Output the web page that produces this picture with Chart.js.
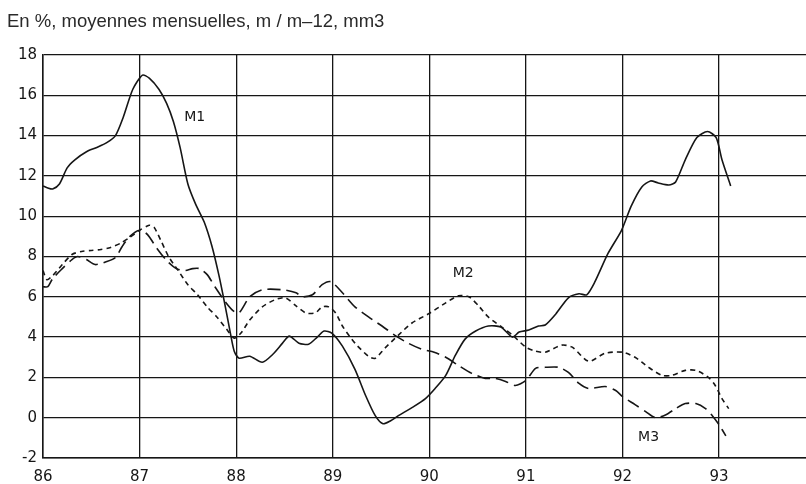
<!DOCTYPE html>
<html>
<head>
<meta charset="utf-8">
<script src="https://cdn.jsdelivr.net/npm/chart.js@4"></script>
<style>
  body { margin: 0; background: #fff; }
  canvas { display: block; }
</style>
</head>
<body>
<canvas id="money-chart" width="806" height="484"></canvas>
<script>
// monthly averages, year-on-year change in %
const m1Years = [86.00, 86.05, 86.10, 86.17, 86.25, 86.33, 86.45, 86.55, 86.66, 86.75, 86.83, 86.93,
    87.03, 87.10, 87.20, 87.28, 87.35, 87.42, 87.50, 87.58, 87.67, 87.75, 87.82, 87.88, 87.94, 87.98,
    88.03, 88.14, 88.27, 88.38, 88.48, 88.55, 88.65, 88.75, 88.84, 88.91, 88.99,
    89.10, 89.23, 89.34, 89.44, 89.52, 89.60, 89.68, 89.82, 89.96,
    90.06, 90.17, 90.27, 90.37, 90.48, 90.61, 90.74, 90.86, 90.93,
    91.03, 91.13, 91.20, 91.31, 91.44, 91.55, 91.63, 91.71, 91.85, 91.99,
    92.09, 92.20, 92.29, 92.37, 92.48, 92.55, 92.65, 92.77, 92.88, 92.97,
    93.03, 93.12];
const m1Values = [11.5, 11.4, 11.35, 11.6, 12.4, 12.8, 13.2, 13.4, 13.65, 14.0, 14.9, 16.3,
    17.0, 16.85, 16.3, 15.6, 14.7, 13.4, 11.6, 10.6, 9.7, 8.5, 7.1, 5.7, 4.2, 3.3,
    2.95, 3.05, 2.75, 3.15, 3.7, 4.05, 3.7, 3.65, 4.0, 4.3, 4.2,
    3.55, 2.4, 1.1, 0.1, -0.3, -0.15, 0.1, 0.5, 0.95,
    1.45, 2.1, 3.1, 3.9, 4.3, 4.55, 4.5, 4.0, 4.25,
    4.35, 4.55, 4.6, 5.15, 5.95, 6.15, 6.1, 6.7, 8.15, 9.3,
    10.5, 11.45, 11.75, 11.65, 11.55, 11.7, 12.8, 13.9, 14.2, 13.9,
    12.8, 11.5];

const m2Years = [86.00, 86.04, 86.10, 86.20, 86.30, 86.40, 86.50, 86.60, 86.70, 86.80, 86.90,
    87.00, 87.10, 87.15, 87.22, 87.30, 87.40, 87.50, 87.60, 87.70, 87.80, 87.90, 87.98,
    88.05, 88.14, 88.27, 88.40, 88.51, 88.62, 88.72, 88.82, 88.89, 88.96,
    89.03, 89.10, 89.23, 89.37, 89.44, 89.54, 89.68, 89.82, 89.99,
    90.17, 90.30, 90.41, 90.51, 90.61, 90.75, 90.86,
    91.00, 91.10, 91.20, 91.37, 91.48, 91.65, 91.82,
    92.00, 92.13, 92.27, 92.41, 92.51, 92.65, 92.76, 92.89, 92.96,
    93.03, 93.10];
const m2Values = [7.3, 6.85, 7.05, 7.6, 8.1, 8.25, 8.3, 8.35, 8.45, 8.65, 8.95,
    9.3, 9.55, 9.45, 8.8, 8.0, 7.3, 6.6, 6.1, 5.5, 5.0, 4.4, 3.95,
    4.2, 4.85, 5.5, 5.85, 5.95, 5.55, 5.2, 5.2, 5.5, 5.5,
    5.2, 4.55, 3.7, 3.05, 2.95, 3.45, 4.1, 4.7, 5.15,
    5.7, 6.05, 6.0, 5.55, 5.0, 4.5, 4.1,
    3.5, 3.3, 3.25, 3.6, 3.5, 2.8, 3.2,
    3.25, 3.0, 2.5, 2.1, 2.1, 2.35, 2.35, 2.0, 1.6,
    0.95, 0.45];

const m3Years = [86.00, 86.05, 86.10, 86.20, 86.30, 86.36, 86.45, 86.54, 86.66, 86.75, 86.82, 86.90,
    87.00, 87.08, 87.18, 87.28, 87.38, 87.47, 87.55, 87.62, 87.70, 87.78, 87.88, 87.97,
    88.03, 88.14, 88.27, 88.48, 88.62, 88.68, 88.79, 88.89, 88.98,
    89.10, 89.23, 89.37, 89.51, 89.64, 89.78, 89.92,
    90.05, 90.17, 90.30, 90.44, 90.58, 90.68, 90.79, 90.89,
    91.00, 91.10, 91.20, 91.34, 91.44, 91.55, 91.65, 91.82, 91.93,
    92.00, 92.13, 92.24, 92.34, 92.45, 92.55, 92.65, 92.76, 92.86, 92.93,
    93.00, 93.07];
const m3Values = [6.5, 6.5, 6.9, 7.4, 7.85, 8.0, 7.85, 7.6, 7.75, 7.95, 8.5, 9.0,
    9.3, 9.1, 8.4, 7.8, 7.4, 7.3, 7.4, 7.4, 7.1, 6.5, 5.8, 5.3,
    5.2, 6.0, 6.35, 6.35, 6.2, 6.0, 6.1, 6.6, 6.75,
    6.2, 5.5, 5.0, 4.55, 4.1, 3.7, 3.4,
    3.25, 3.0, 2.6, 2.2, 1.95, 1.95, 1.8, 1.6,
    1.85, 2.45, 2.5, 2.5, 2.25, 1.7, 1.45, 1.55, 1.35,
    1.05, 0.65, 0.3, 0.0, 0.15, 0.45, 0.7, 0.7, 0.45, 0.1,
    -0.35, -0.9];

const yearTicks = [86, 87, 88, 89, 90, 91, 92, 93];
const valueTicks = [-2, 0, 2, 4, 6, 8, 10, 12, 14, 16, 18];
const seriesNames = ['M1', 'M2', 'M3'];

const chartTitle = 'En %, moyennes mensuelles, m / m\u201312, mm3';
const ink = '#161616';
const tickFont = { family: 'DejaVu Sans', size: 15 };

function points(xs, ys) {
    return xs.map((x, i) => ({ x: x, y: ys[i] }));
}

// where the series names sit, in data units
const nameSpots = [
    { x: 87.57, y: 14.9 },
    { x: 90.35, y: 7.15 },
    { x: 92.27, y: -1.0 }
];

// title above the plot and the series names inside it
const textPlugin = {
    id: 'textPlugin',
    afterDraw(chart) {
        const ctx = chart.ctx;
        const xs = chart.scales.x;
        const ys = chart.scales.y;
        ctx.save();
        ctx.fillStyle = '#2a2a2a';
        ctx.font = '18.5px "Liberation Sans"';
        ctx.textAlign = 'left';
        ctx.textBaseline = 'middle';
        ctx.fillText(chartTitle, 7, 22);

        ctx.fillStyle = ink;
        ctx.font = '14px "DejaVu Sans"';
        ctx.textAlign = 'center';
        seriesNames.forEach((name, i) => {
            ctx.fillText(name, xs.getPixelForValue(nameSpots[i].x), ys.getPixelForValue(nameSpots[i].y));
        });
        ctx.restore();
    }
};

const data = {
    datasets: [{
        label: seriesNames[0],
        data: points(m1Years, m1Values),
        borderColor: ink,
        borderWidth: 1.6,
    }, {
        label: seriesNames[1],
        data: points(m2Years, m2Values),
        borderColor: ink,
        borderWidth: 1.6,
        borderDash: [5, 4],
    }, {
        label: seriesNames[2],
        data: points(m3Years, m3Values),
        borderColor: ink,
        borderWidth: 1.6,
        borderDash: [13, 6],
    }]
};

const config = {
    type: 'line',
    data: data,
    plugins: [textPlugin],
    options: {
        responsive: false,
        animation: false,
        layout: {
            padding: { top: 55, right: 0, bottom: 0, left: 0 }
        },
        elements: {
            point: { radius: 0 },
            line: { tension: 0.25, fill: false }
        },
        scales: {
            x: {
                type: 'linear',
                min: 86,
                max: 93.9,
                afterFit: (scale) => { scale.height = 26; },
                afterBuildTicks: (scale) => { scale.ticks = yearTicks.map(v => ({ value: v })); },
                grid: { color: ink, lineWidth: 1.3, drawTicks: false },
                border: { color: ink, width: 1.5 },
                ticks: {
                    color: ink,
                    font: tickFont,
                    padding: 10,
                    maxRotation: 0,
                    callback: (v) => String(v)
                }
            },
            y: {
                min: -2,
                max: 18,
                afterFit: (scale) => { scale.width = 43; },
                afterBuildTicks: (scale) => { scale.ticks = valueTicks.map(v => ({ value: v })); },
                grid: { color: ink, lineWidth: 1.3, drawTicks: false },
                border: { color: ink, width: 1.5 },
                ticks: {
                    color: ink,
                    font: tickFont,
                    padding: 6,
                    callback: (v) => String(v)
                }
            }
        },
        plugins: {
            legend: { display: false },
            tooltip: { enabled: false },
            title: { display: false }
        }
    }
};

var context = document.getElementById('money-chart').getContext('2d');

new Chart(
    context,
    config
);
</script>
</body>
</html>
